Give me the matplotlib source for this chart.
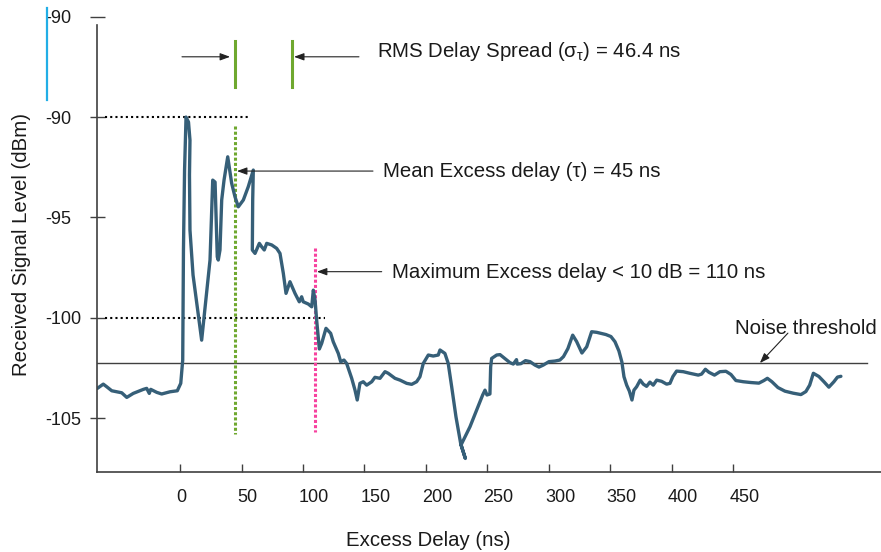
import matplotlib.pyplot as plt
from matplotlib.lines import Line2D
from matplotlib.transforms import ScaledTranslation

plt.rcParams['font.family'] = ['Liberation Sans', 'DejaVu Sans']
plt.rcParams['mathtext.fontset'] = 'custom'
plt.rcParams['mathtext.rm'] = 'Liberation Sans'
plt.rcParams['mathtext.it'] = 'Liberation Sans'

# power delay profile: excess delay (ns) vs received level (dBm)
delay_ns = [-67.2, -62.4, -59.6, -55.5, -47.4, -43.3, -38.0, -29.8, -27.1, -25.0,
            -23.8, -18.9, -14.9, -8.1, -2.2, 0.6, 2.2, 2.8, 3.7, 4.9,
            6.9, 8.1, 7.7, 8.1, 10.6, 13.8, 17.6, 24.4, 26.6, 28.5,
            30.3, 31.1, 32.5, 33.9, 35.8, 38.8, 42.0, 44.7, 47.4, 51.5,
            55.5, 59.6, 59.1, 58.8, 61.0, 64.5, 66.4, 68.5, 70.5, 74.6,
            78.6, 81.3, 84.0, 86.2, 89.4, 93.5, 97.0, 98.9, 100.2, 104.3,
            107.1, 108.4, 109.8, 111.1, 113.3, 115.2, 118.7, 122.5, 124.6, 128.7,
            130.7, 133.3, 135.5, 139.6, 142.3, 144.1, 146.3, 149.0, 151.8, 155.9,
            158.5, 162.6, 166.7, 169.3, 174.8, 178.9, 184.3, 188.4, 192.4, 195.1,
            197.8, 201.9, 205.9, 210.0, 211.4, 215.4, 218.1, 220.9, 224.4, 228.2,
            232.0, 228.5, 235.8, 241.2, 246.1, 248.0, 249.6, 252.0, 252.6, 253.4,
            257.5, 260.2, 264.2, 268.3, 271.0, 273.6, 274.2, 277.2, 280.9, 284.6,
            288.6, 291.9, 295.4, 300.0, 304.9, 308.9, 311.8, 315.4, 319.3, 322.5,
            326.8, 330.7, 334.7, 338.8, 346.3, 350.4, 353.7, 356.9, 359.3, 361.0,
            363.2, 365.4, 367.5, 369.1, 371.3, 374.2, 376.7, 379.4, 382.1, 384.8,
            387.6, 391.6, 395.7, 398.4, 400.8, 403.8, 409.2, 414.6, 421.4, 424.1,
            427.2, 430.1, 434.6, 439.0, 443.9, 448.0, 452.0, 458.0, 464.2, 470.7,
            474.8, 477.6, 481.3, 486.2, 491.9, 498.6, 504.9, 508.9, 512.0, 515.0,
            519.5, 523.6, 527.6, 531.7, 534.6, 537.4]
level_dbm = [-103.51, -103.30, -103.43, -103.63, -103.73, -103.96, -103.76, -103.56, -103.51, -103.76,
             -103.56, -103.71, -103.79, -103.68, -103.63, -103.26, -102.10, -96.62, -92.64, -90.00,
             -90.25, -91.15, -92.89, -95.63, -97.87, -99.36, -101.11, -97.12, -93.14, -93.24,
             -96.96, -97.12, -96.62, -94.13, -93.14, -91.98, -93.30, -93.97, -94.47, -94.13,
             -93.47, -92.64, -94.13, -96.62, -96.79, -96.29, -96.46, -96.62, -96.29, -96.37,
             -96.54, -96.79, -97.78, -98.78, -98.20, -98.78, -99.20, -98.95, -99.20, -99.31,
             -99.45, -98.62, -99.11, -100.11, -101.55, -101.27, -100.52, -100.77, -101.19, -101.77,
             -102.19, -102.10, -102.27, -103.01, -103.60, -104.09, -103.26, -103.18, -103.35, -103.18,
             -102.96, -103.01, -102.68, -102.76, -103.01, -103.10, -103.26, -103.31, -103.18, -102.93,
             -102.27, -101.85, -101.90, -101.85, -101.60, -101.77, -102.27, -103.43, -104.93, -106.25,
             -107.00, -106.33, -105.42, -104.59, -103.84, -103.60, -103.84, -103.79, -102.44, -102.02,
             -101.85, -101.83, -102.03, -102.23, -102.30, -102.08, -102.30, -102.28, -102.13, -102.18,
             -102.35, -102.45, -102.35, -102.18, -102.15, -102.10, -101.93, -101.53, -100.86, -101.18,
             -101.75, -101.44, -100.69, -100.72, -100.83, -100.93, -101.19, -101.65, -102.20, -102.93,
             -103.35, -103.65, -104.09, -103.60, -103.43, -103.10, -103.30, -103.41, -103.20, -103.35,
             -103.10, -103.16, -103.30, -103.26, -102.92, -102.65, -102.68, -102.76, -102.85, -102.80,
             -102.56, -102.71, -102.85, -102.68, -102.66, -102.82, -103.12, -103.18, -103.22, -103.25,
             -103.12, -103.01, -103.18, -103.47, -103.65, -103.75, -103.82, -103.67, -103.35, -102.76,
             -102.92, -103.18, -103.45, -103.18, -102.95, -102.91]

mean_delay = 45.0      # ns
rms_spread = 46.4      # ns
max_delay = 110.0      # ns, 10 dB below peak
peak_level = -90.0
cutoff_level = -100.0
noise_level = -102.25

xticks = [0, 50, 100, 150, 200, 250, 300, 350, 400, 450]
yticks = [-105, -100, -95, -90, -85]
ytick_labels = ['-105', '-100', '-95', '-90', '-90']

axis_col = '#404040'
text_col = '#1a1a1a'
curve_col = '#365f78'
green = '#6fa82f'
pink = '#f7429f'

fig = plt.figure(figsize=(8.81, 5.52), dpi=100)
ax = fig.add_axes([97 / 881, (552 - 471.7) / 552, 784 / 881, 463.1 / 552])
ax.set_xlim(-67.5, 570)
ax.set_ylim(-107.66, -84.6)

for s in ['top', 'right']:
    ax.spines[s].set_visible(False)
for s in ['left', 'bottom']:
    ax.spines[s].set_color(axis_col)
    ax.spines[s].set_linewidth(1.2)
ax.spines['left'].set_bounds(-107.66, -85.4)

ax.set_yticks(yticks, ytick_labels)
ax.set_xticks(xticks, [str(t) for t in xticks])
ax.tick_params(axis='y', direction='inout', length=10.8, width=1, color=axis_col,
               pad=32, labelsize=13, labelcolor=text_col)
ax.tick_params(axis='x', direction='in', length=5.8, width=1, color=axis_col,
               pad=12.5, labelsize=13, labelcolor=text_col)
for lab in ax.get_yticklabels():
    lab.set_horizontalalignment('left')
shift = ScaledTranslation(-0.04, 0, fig.dpi_scale_trans)
for lab in ax.get_xticklabels():
    lab.set_horizontalalignment('left')
    lab.set_transform(lab.get_transform() + shift)

# reference lines
ax.plot([-61, 56], [peak_level, peak_level], color='black', lw=1.5, ls=(0, (1, 1.5)))
ax.plot([-61, 118], [cutoff_level, cutoff_level], color='black', lw=1.5, ls=(0, (1, 1.5)))
ax.plot([-67.5, 558.5], [noise_level, noise_level], color=axis_col, lw=1)
ax.plot([mean_delay, mean_delay], [-90.45, -105.8], color=green, lw=2.2, ls=(0, (1, 0.7)))
ax.plot([max_delay, max_delay], [-96.5, -105.7], color=pink, lw=2.2, ls=(0, (1, 0.7)))

# rms spread markers
for xm in [mean_delay, mean_delay + rms_spread]:
    ax.plot([xm, xm], [-86.2, -88.5], color=green, lw=2.2)

ax.plot(delay_ns, level_dbm, color=curve_col, lw=2.4,
        solid_joinstyle='round', solid_capstyle='round')

arrow = dict(arrowstyle='-|>,head_length=0.6,head_width=0.22', mutation_scale=10,
             lw=0.8, color='#222222', shrinkA=0, shrinkB=0)
ax.annotate('', xy=(mean_delay - 4.3, -87.0), xytext=(1.6, -87.0), arrowprops=arrow)
ax.annotate('', xy=(mean_delay + rms_spread + 1.3, -87.0), xytext=(145.5, -87.0), arrowprops=arrow)
ax.annotate('', xy=(mean_delay + 1.3, -92.69), xytext=(156.9, -92.69), arrowprops=arrow)
ax.annotate('', xy=(max_delay + 1.3, -97.7), xytext=(164.0, -97.7), arrowprops=arrow)
ax.annotate('', xy=(471.5, -102.25), xytext=(494.3, -100.76), arrowprops=arrow)

fs = 14.7
ax.text(159.9, -86.75, r'RMS Delay Spread (σ$_{τ}$) = 46.4 ns', fontsize=fs,
        color=text_col, va='center', ha='left')
ax.text(165.0, -92.7, 'Mean Excess delay (τ) = 45 ns', fontsize=fs,
        color=text_col, va='center', ha='left')
ax.text(172.1, -97.75, 'Maximum Excess delay < 10 dB = 110 ns', fontsize=fs,
        color=text_col, va='center', ha='left')
ax.text(451.2, -100.51, 'Noise threshold', fontsize=fs,
        color=text_col, va='center', ha='left')

fig.text(22 / 881, 1 - 245 / 552, 'Received Signal Level (dBm)', rotation=90,
         fontsize=fs, color=text_col, ha='center', va='center')
fig.text(428.5 / 881, 1 - 541 / 552, 'Excess Delay (ns)', fontsize=fs,
         color=text_col, ha='center', va='center')

# cyan bar beside the upper label
fig.add_artist(Line2D([47 / 881, 47 / 881], [1 - 8 / 552, 1 - 100 / 552],
                      color='#22aee6', lw=1.6))

fig.savefig('out.png', dpi=100)
